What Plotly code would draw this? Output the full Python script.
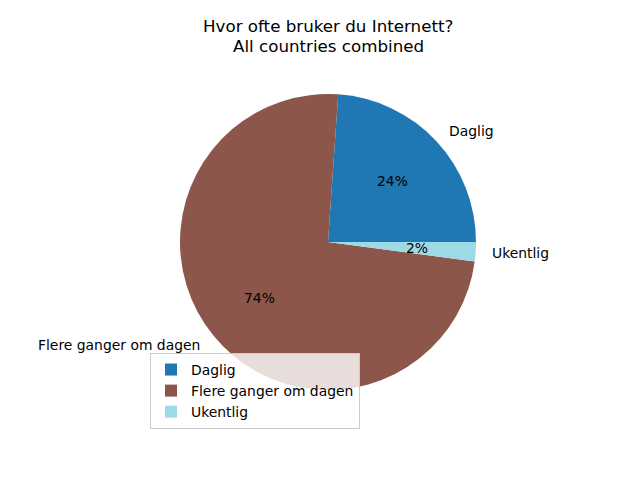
import math
import plotly.graph_objects as go

labels = ["Daglig", "Flere ganger om dagen", "Ukentlig"]
values = [23.9, 74.0, 2.1]
colors = ["#1f77b4", "#8c564b", "#9edae5"]
title_lines = ["Hvor ofte bruker du Internett?", "All countries combined"]

W, H = 640, 480
cx, cy, R = 328, 242, 148  # pie centre / radius in px
total = sum(values)

fig = go.Figure()
fig.add_trace(go.Pie(
    labels=labels, values=values, sort=False, direction="counterclockwise",
    rotation=90 - 360 * values[0] / total,
    marker=dict(colors=colors, line=dict(width=0)),
    textinfo="none", hoverinfo="label+percent",
    domain=dict(x=[(cx - R) / W, (cx + R) / W], y=[(H - cy - R) / H, (H - cy + R) / H]),
))

ann = []
start = 0.0
for lab, v in zip(labels, values):
    frac = v / total
    mid = (start + frac / 2) * 2 * math.pi
    start += frac
    c, s = math.cos(mid), math.sin(mid)
    lx = cx + 1.1 * R * c
    ly = cy - 1.1 * R * s
    ann.append(dict(x=lx / W, y=1 - ly / H, xref="paper", yref="paper", text=lab,
                    showarrow=False, xanchor="left" if c > 0 else "right", yanchor="middle",
                    font=dict(size=13.9, color="black")))
    px_ = cx + 0.6 * R * c
    py_ = cy - 0.6 * R * s
    ann.append(dict(x=px_ / W, y=1 - py_ / H, xref="paper", yref="paper",
                    text=f"{round(frac * 100):.0f}%", showarrow=False,
                    xanchor="center", yanchor="middle", font=dict(size=13.9, color="black")))

# title as two stacked lines
ann.append(dict(x=cx / W, y=1 - 36 / H, xref="paper", yref="paper", text=title_lines[0],
                showarrow=False, xanchor="center", yanchor="bottom", borderpad=0, borderwidth=0,
                font=dict(size=16.7, color="black")))
ann.append(dict(x=cx / W, y=1 - 35.5 / H, xref="paper", yref="paper", text=title_lines[1],
                showarrow=False, xanchor="center", yanchor="top", borderpad=0, borderwidth=0,
                font=dict(size=16.7, color="black")))

fig.update_layout(
    width=W, height=H, margin=dict(l=0, r=0, t=0, b=0),
    paper_bgcolor="white", plot_bgcolor="white",
    font=dict(family="DejaVu Sans", size=13.9, color="black"),
    annotations=ann,
    legend=dict(x=150 / W, y=1 - 353 / H, xanchor="left", yanchor="top",
                bgcolor="rgba(255,255,255,0.8)", bordercolor="#cccccc", borderwidth=1,
                font=dict(size=13.9), tracegroupgap=0, itemwidth=30),
)
fig.write_html("out.html", config={"displayModeBar": False},
               post_script="document.body.style.margin='0';")
